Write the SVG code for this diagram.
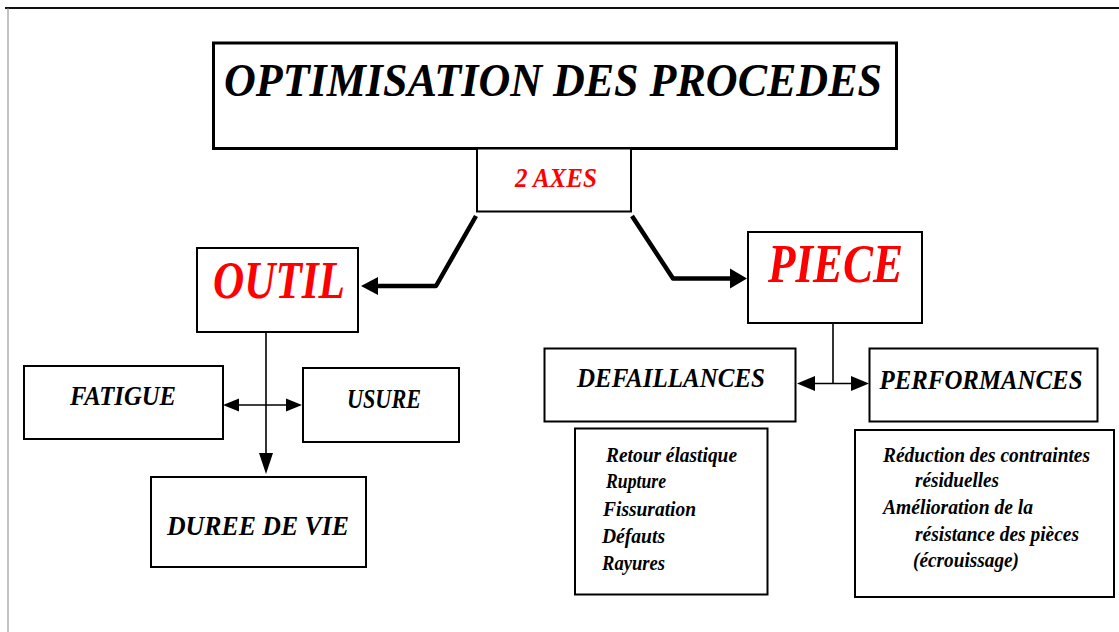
<svg xmlns="http://www.w3.org/2000/svg" width="1119" height="632" viewBox="0 0 1119 632">
<style>
.box{fill:#fff;stroke:#000;stroke-width:2}
.t{font-family:"Liberation Serif","Times New Roman",serif;font-weight:bold;font-style:italic;fill:#000}
.red{fill:#ff0000}
.mid{text-anchor:middle}
.s{font-size:20.5px}
.thin{stroke:#000;stroke-width:1.6;fill:none}
.thick{stroke:#000;stroke-width:4.5;fill:none;stroke-linecap:butt;stroke-linejoin:round}
</style>
<rect width="1119" height="632" fill="#fff"/>
<g id="frame">
<line x1="5" y1="8" x2="1119" y2="8" stroke="#111" stroke-width="2.2"/>
<line x1="8" y1="8" x2="8" y2="632" stroke="#888" stroke-width="1"/>
</g>
<g id="connectors">
<polyline class="thick" points="476,216 436,286 376,286"/>
<path d="M361,286 L378,277 L378,295 Z" fill="#000"/>
<polyline class="thick" points="632,216 673,278.5 731,278.5"/>
<path d="M747,278.5 L730,268.5 L730,288.5 Z" fill="#000"/>
<line class="thin" x1="266" y1="332" x2="266" y2="454"/>
<path d="M266,474 L259,453 L273,453 Z" fill="#000"/>
<line class="thin" x1="238" y1="405" x2="287" y2="405"/>
<path d="M223,405 L239,398.5 L239,411.5 Z" fill="#000"/>
<path d="M302,405 L286,398.5 L286,411.5 Z" fill="#000"/>
<line class="thin" x1="833" y1="323" x2="833" y2="383.5"/>
<line class="thin" x1="813" y1="383.5" x2="853" y2="383.5"/>
<path d="M797,383.5 L815,376 L815,391 Z" fill="#000"/>
<path d="M869,383.5 L851,376 L851,391 Z" fill="#000"/>
</g>
<g id="title">
<rect x="213.5" y="43" width="683" height="105.5" fill="#fff" stroke="#000" stroke-width="3"/>
<text class="t mid" x="553" y="96" font-size="47" textLength="658" lengthAdjust="spacingAndGlyphs">OPTIMISATION DES PROCEDES</text>
</g>
<g id="axes">
<rect class="box" x="477" y="148.5" width="154" height="63"/>
<text class="t red mid" x="556" y="187" font-size="27" textLength="82" lengthAdjust="spacingAndGlyphs">2 AXES</text>
</g>
<g id="outil">
<rect class="box" x="197" y="248" width="161" height="84"/>
<text class="t red mid" x="279" y="298" font-size="53" textLength="132" lengthAdjust="spacingAndGlyphs">OUTIL</text>
</g>
<g id="piece">
<rect class="box" x="748" y="232" width="174" height="91"/>
<text class="t red mid" x="835.5" y="282" font-size="54" textLength="135" lengthAdjust="spacingAndGlyphs">PIECE</text>
</g>
<g id="fatigue">
<rect class="box" x="24" y="366" width="199" height="73"/>
<text class="t mid" x="123" y="405" font-size="27" textLength="106" lengthAdjust="spacingAndGlyphs">FATIGUE</text>
</g>
<g id="usure">
<rect class="box" x="303" y="368" width="156" height="74"/>
<text class="t mid" x="384" y="408" font-size="27" textLength="74" lengthAdjust="spacingAndGlyphs">USURE</text>
</g>
<g id="duree">
<rect class="box" x="151" y="477" width="215" height="90"/>
<text class="t mid" x="258" y="535" font-size="27" textLength="182" lengthAdjust="spacingAndGlyphs">DUREE DE VIE</text>
</g>
<g id="defaillances">
<rect class="box" x="544.5" y="348.5" width="251" height="73"/>
<text class="t mid" x="671" y="387" font-size="27" textLength="188" lengthAdjust="spacingAndGlyphs">DEFAILLANCES</text>
</g>
<g id="performances">
<rect class="box" x="869.5" y="348.5" width="228" height="73"/>
<text class="t mid" x="981" y="389" font-size="27" textLength="203" lengthAdjust="spacingAndGlyphs">PERFORMANCES</text>
</g>
<g id="defaillances-list">
<rect class="box" x="575" y="428.5" width="192.5" height="166"/>
<text class="t s" x="606" y="462" textLength="131" lengthAdjust="spacingAndGlyphs">Retour élastique</text>
<text class="t s" x="606" y="488" textLength="60" lengthAdjust="spacingAndGlyphs">Rupture</text>
<text class="t s" x="603" y="516" textLength="93" lengthAdjust="spacingAndGlyphs">Fissuration</text>
<text class="t s" x="602" y="543" textLength="63" lengthAdjust="spacingAndGlyphs">Défauts</text>
<text class="t s" x="602" y="570" textLength="63" lengthAdjust="spacingAndGlyphs">Rayures</text>
</g>
<g id="performances-list">
<rect class="box" x="855" y="430" width="259" height="167"/>
<text class="t s" x="883" y="462" textLength="207" lengthAdjust="spacingAndGlyphs">Réduction des contraintes</text>
<text class="t s" x="915" y="487" textLength="84" lengthAdjust="spacingAndGlyphs">résiduelles</text>
<text class="t s" x="883" y="514" textLength="150" lengthAdjust="spacingAndGlyphs">Amélioration de la</text>
<text class="t s" x="915" y="541" textLength="164" lengthAdjust="spacingAndGlyphs">résistance des pièces</text>
<text class="t s" x="913" y="567" textLength="106" lengthAdjust="spacingAndGlyphs">(écrouissage)</text>
</g>
</svg>
